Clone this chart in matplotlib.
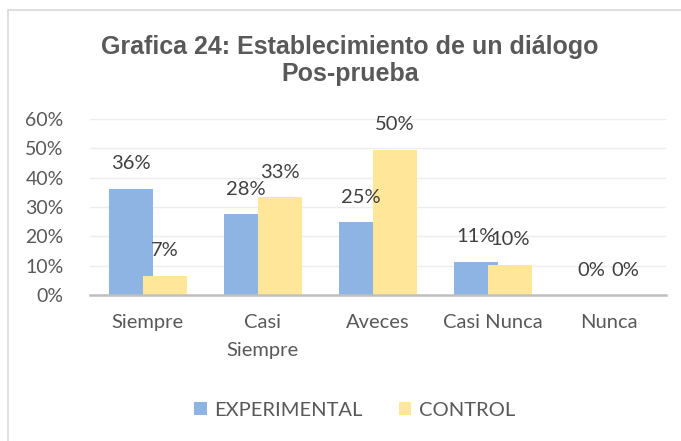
import numpy as np
import matplotlib
matplotlib.use("Agg")
import matplotlib.pyplot as plt
from matplotlib.patches import Rectangle

categories = ["Siempre", "Casi\nSiempre", "Aveces", "Casi Nunca", "Nunca"]
experimental = [0.362, 0.275, 0.248, 0.113, 0.0]
control = [0.065, 0.334, 0.495, 0.103, 0.0]
exp_labels = ["36%", "28%", "25%", "11%", "0%"]
ctl_labels = ["7%", "33%", "50%", "10%", "0%"]
yticks = [0, 0.1, 0.2, 0.3, 0.4, 0.5, 0.6]
ytick_labels = ["0%", "10%", "20%", "30%", "40%", "50%", "60%"]

txt = "#595959"
blue = "#8DB4E2"
yellow = "#FFE699"

plt.rcParams["font.family"] = ["Lato", "DejaVu Sans"]

fig = plt.figure(figsize=(6.81, 4.41), dpi=100)
fig.patches.append(Rectangle((8 / 681, -0.1), 1.2, (441 - 10) / 441 + 0.1,
                             transform=fig.transFigure, fill=False,
                             edgecolor="#D9D9D9", linewidth=1.2))

ax = fig.add_axes([90 / 681, (441 - 295) / 441, 576 / 681, 176 / 441])
x = np.arange(len(categories))
w = 0.382
off = 0.148
b1 = ax.bar(x - off, experimental, w, color=blue, label="EXPERIMENTAL", zorder=2)
b2 = ax.bar(x + off, control, w, color=yellow, label="CONTROL", zorder=3)

for xi, v, lab in zip(x - off, experimental, exp_labels):
    ax.annotate(lab, (xi, v), xytext=(0, 18), textcoords="offset points",
                ha="center", va="center", fontsize=14.5, color="#404040", zorder=5)
for xi, v, lab in zip(x + off, control, ctl_labels):
    ax.annotate(lab, (xi, v), xytext=(0, 18), textcoords="offset points",
                ha="center", va="center", fontsize=14.5, color="#404040", zorder=5)

ax.set_xlim(-0.5, 4.5)
ax.set_ylim(0, 0.6)
ax.set_yticks(yticks)
ax.set_yticklabels(ytick_labels)
ax.set_xticks(x)
ax.set_xticklabels(categories, linespacing=1.75)
ax.tick_params(axis="y", length=0, pad=19, labelsize=14, labelcolor=txt)
ax.tick_params(axis="x", length=0, pad=14, labelsize=14.5, labelcolor=txt)
ax.grid(axis="y", color="#EDEDED", linewidth=1, zorder=0)
ax.set_axisbelow(True)
for s in ["top", "right", "left"]:
    ax.spines[s].set_visible(False)
ax.spines["bottom"].set_color("#BFBFBF")
ax.spines["bottom"].set_linewidth(1.8)
ax.spines["bottom"].set_zorder(4)

fig.text(350 / 681, 1 - 47 / 441, "Grafica 24: Establecimiento de un diálogo",
         ha="center", va="center", fontsize=18, fontweight="bold",
         color=txt, family="Liberation Sans")
fig.text(350 / 681, 1 - 74 / 441, "Pos-prueba",
         ha="center", va="center", fontsize=18, fontweight="bold",
         color=txt, family="Liberation Sans")

fig.legend(handles=[b1, b2], loc="center", bbox_to_anchor=(355 / 681, 1 - 410 / 441),
           ncol=2, frameon=False, fontsize=14.5, labelcolor=txt,
           handlelength=0.6, handleheight=0.6, handletextpad=0.4, columnspacing=1.8)

fig.savefig("out.png", dpi=100)
